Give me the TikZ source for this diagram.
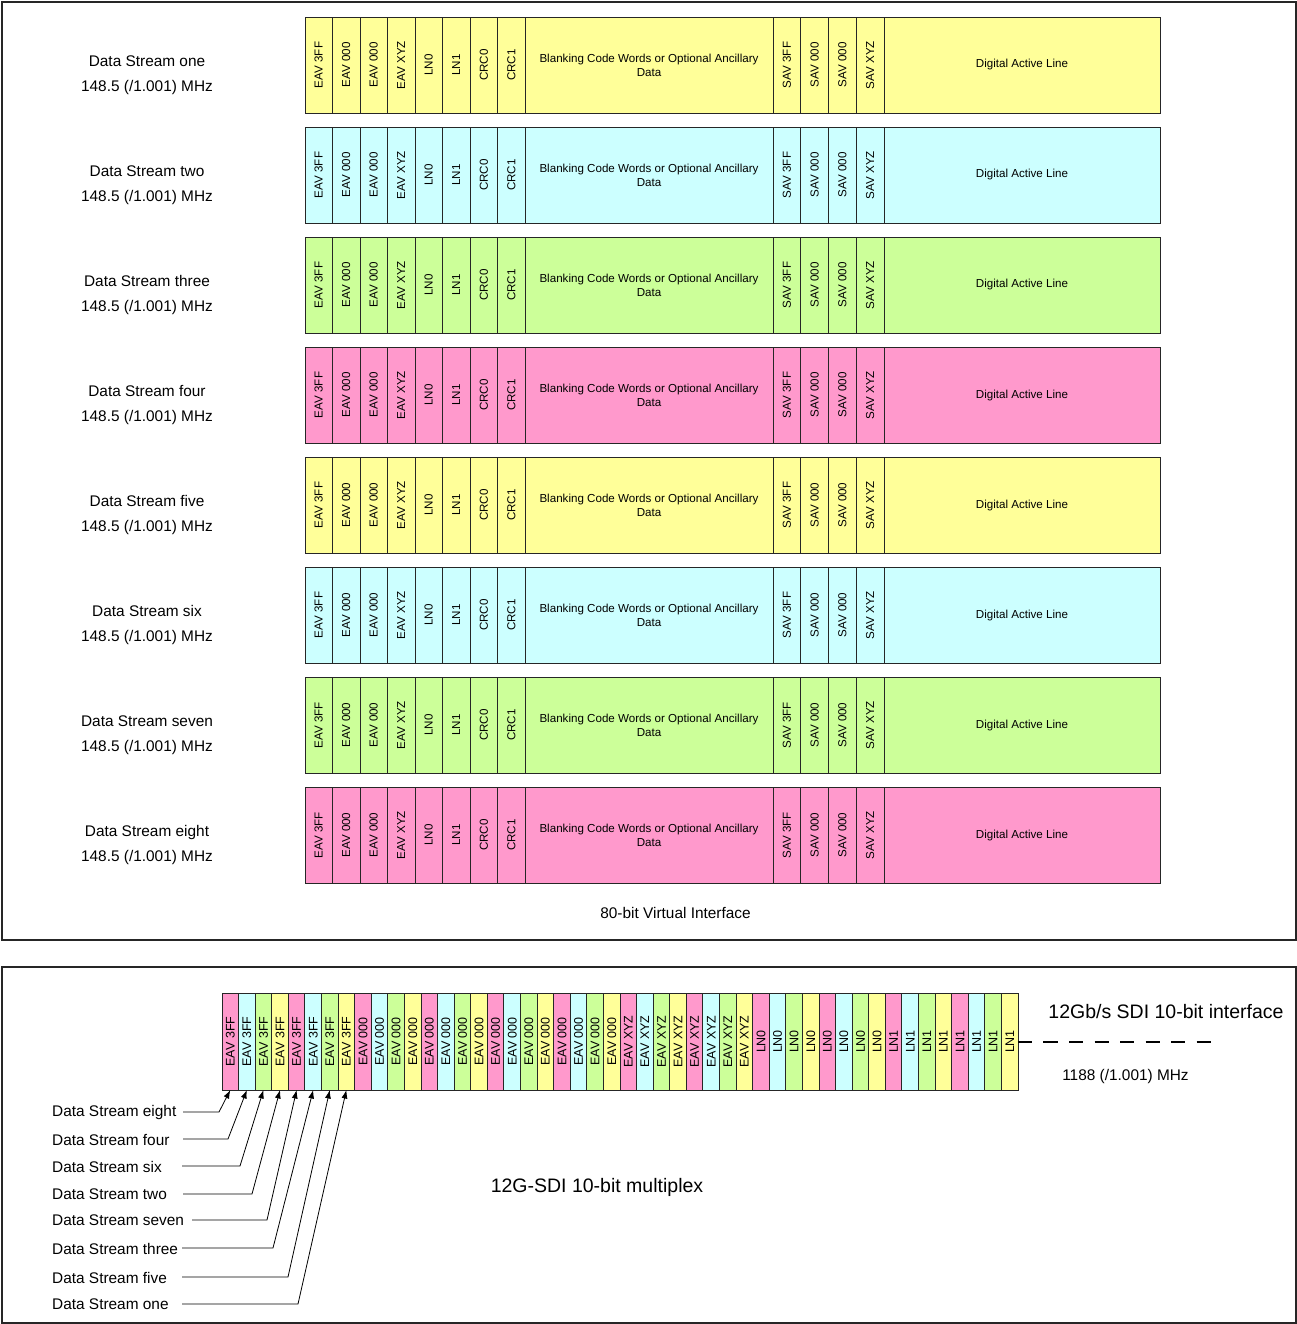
\documentclass[tikz,border=0pt]{standalone}
\usepackage{fontspec}
\setmainfont{Liberation Sans}
\usepackage{xcolor}
\usepackage{tikz}
\usetikzlibrary{arrows.meta,positioning}

\definecolor{ylw}{HTML}{FFFF99}
\definecolor{cyn}{HTML}{CCFFFF}
\definecolor{grn}{HTML}{CCFF99}
\definecolor{pnk}{HTML}{FF99CC}

\begin{document}
\begin{tikzpicture}[
    x=1pt, y=-1pt,
    panel/.style={draw=black!85, line width=1.8pt},
    word/.style={rectangle, draw=black!85, line width=0.9pt, minimum width=27.5pt, minimum height=96pt, inner sep=0pt, outer sep=0pt, align=center, font=\fontsize{11.6}{14}\selectfont},
    mux/.style={rectangle, draw=black!85, line width=0.9pt, minimum width=16.583pt, minimum height=97pt, inner sep=0pt, outer sep=0pt, anchor=north west, font=\fontsize{12.5}{14}\selectfont},
    rowlabel/.style={align=center, font=\fontsize{15.4}{25}\selectfont},
    feedlabel/.style={anchor=west, inner sep=0pt, font=\fontsize{15.4}{18}\selectfont},
    biglabel/.style={font=\fontsize{19.5}{22}\selectfont},
    feed/.style={-{Latex[length=8.5pt,width=6pt]}, line width=0.8pt},
    link/.style={line width=1.6pt, dash pattern=on 14pt off 11.5pt}
]
\useasboundingbox (0,0) rectangle (1297,1324);

% Panels
\draw[panel] (2,2) rectangle (1296,940);
\draw[panel] (2,967) rectangle (1296,1323);

% Virtual interface streams
\foreach \name/\fillc [count=\r] in {one/ylw,two/cyn,three/grn,four/pnk,five/ylw,six/cyn,seven/grn,eight/pnk}{
  \pgfmathsetmacro{\ytop}{17+110*(\r-1)}
  \node[rowlabel] (label\r) at (147,\ytop+58.5) {Data Stream \name\\148.5 (/1.001) MHz};
  \node[word, fill=\fillc, anchor=north west] (eav3ff\r) at (305,\ytop) {\rotatebox{90}{EAV 3FF}};
  \node[word, fill=\fillc, right=0pt of eav3ff\r] (eavza\r) {\rotatebox{90}{EAV 000}};
  \node[word, fill=\fillc, right=0pt of eavza\r] (eavzb\r) {\rotatebox{90}{EAV 000}};
  \node[word, fill=\fillc, right=0pt of eavzb\r] (eavxyz\r) {\rotatebox{90}{EAV XYZ}};
  \node[word, fill=\fillc, right=0pt of eavxyz\r] (lnz\r) {\rotatebox{90}{LN0}};
  \node[word, fill=\fillc, right=0pt of lnz\r] (lno\r) {\rotatebox{90}{LN1}};
  \node[word, fill=\fillc, right=0pt of lno\r] (crcz\r) {\rotatebox{90}{CRC0}};
  \node[word, fill=\fillc, right=0pt of crcz\r] (crco\r) {\rotatebox{90}{CRC1}};
  \node[word, fill=\fillc, right=0pt of crco\r, minimum width=248pt] (blank\r) {Blanking Code Words or Optional Ancillary\\Data};
  \node[word, fill=\fillc, right=0pt of blank\r, minimum width=27.75pt] (sav3ff\r) {\rotatebox{90}{SAV 3FF}};
  \node[word, fill=\fillc, right=0pt of sav3ff\r, minimum width=27.75pt] (savza\r) {\rotatebox{90}{SAV 000}};
  \node[word, fill=\fillc, right=0pt of savza\r, minimum width=27.75pt] (savzb\r) {\rotatebox{90}{SAV 000}};
  \node[word, fill=\fillc, right=0pt of savzb\r, minimum width=27.75pt] (savxyz\r) {\rotatebox{90}{SAV XYZ}};
  \node[word, fill=\fillc, right=0pt of savxyz\r, minimum width=276pt] (active\r) {Digital Active Line};
}
\node[rowlabel] (vif) at (675.5,913) {80-bit Virtual Interface};

% 12G-SDI multiplex
\foreach \txt [count=\g from 0] in {EAV 3FF,EAV 000,EAV 000,EAV XYZ,LN0,LN1}{
  \foreach \col [count=\k from 0] in {pnk,cyn,grn,ylw,pnk,cyn,grn,ylw}{
    \node[mux, fill=\col] (mux-\g-\k) at ({222+16.583*(8*\g+\k)},993) {\rotatebox{90}{\txt}};
  }
}
\node[biglabel] (sdi) at (1166,1012) {12Gb/s SDI 10-bit interface};
\node[rowlabel] (rate) at (1125.5,1077) {1188 (/1.001) MHz};
\node[biglabel] (muxlabel) at (597,1187) {12G-SDI 10-bit multiplex};
\coordinate (linkend) at (1218,1042);
\draw[link] (mux-5-7.east |- linkend) -- (linkend);

% Feeds
\foreach \name/\y/\sx/\bx/\k in {eight/1112/183/219/0, four/1139/183/228/1, six/1166/182/240/2, two/1194/183/252/3, seven/1220/192/267/4, three/1248/182/273/5, five/1277/182/288/6, one/1304/182/298/7}{
  \node[feedlabel] (feed-\name) at (52,\y+0.5) {Data Stream \name};
  \coordinate (tail-\name) at (\sx,\y);
  \coordinate (bend-\name) at (\bx,\y);
  \draw[feed] (tail-\name) -- (bend-\name) -- (mux-0-\k.south);
}

\end{tikzpicture}
\end{document}
